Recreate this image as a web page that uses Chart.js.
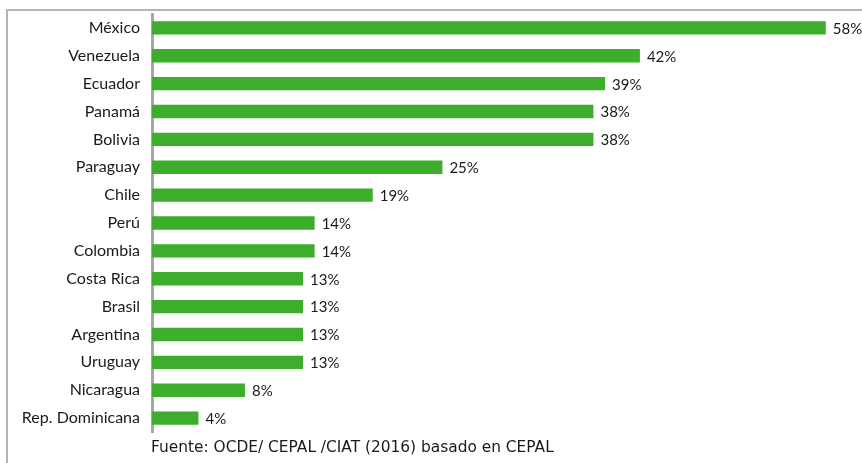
<!DOCTYPE html>
<html>
<head>
<meta charset="utf-8">
<script src="https://cdn.jsdelivr.net/npm/chart.js@4"></script>
<style>
  html, body { margin: 0; padding: 0; background: #fff; }
  #wrap { position: relative; width: 862px; height: 463px; }
  #frame { position: absolute; left: 6px; top: 9px; right: 0; bottom: 0;
           border-top: 2px solid #b4b4b4; border-left: 2px solid #b4b4b4; }
  #chart { position: absolute; left: 0; top: 0; }
  #fuente { position: absolute; left: 151px; top: 438px; font-family: "DejaVu Sans", sans-serif;
            font-size: 15.4px; color: #1a1a1a; white-space: nowrap; }
</style>
</head>
<body>
<div id="wrap">
  <div id="frame"></div>
  <canvas id="chart" width="862" height="463"></canvas>
  <div id="fuente">Fuente: OCDE/ CEPAL /CIAT (2016) basado en CEPAL</div>
</div>
<script>
// países y porcentaje
const paises = ["México", "Venezuela", "Ecuador", "Panamá", "Bolivia", "Paraguay", "Chile", "Perú",
  "Colombia", "Costa Rica", "Brasil", "Argentina", "Uruguay", "Nicaragua", "Rep. Dominicana"];
const valores = [58, 42, 39, 38, 38, 25, 19, 14, 14, 13, 13, 13, 13, 8, 4];

// etiquetas de valor a la derecha de cada barra
const valueLabels = {
  id: "valueLabels",
  afterDatasetsDraw(chart) {
    const ctx = chart.ctx;
    const meta = chart.getDatasetMeta(0);
    ctx.save();
    ctx.font = "15px Lato, sans-serif";
    ctx.fillStyle = "#1a1a1a";
    ctx.textBaseline = "middle";
    ctx.textAlign = "left";
    meta.data.forEach((bar, i) => {
      ctx.fillText(valores[i] + "%", bar.x + 7, bar.y + 1);
    });
    ctx.restore();
  },
};

new Chart(document.getElementById("chart"), {
  type: "bar",
  data: {
    labels: paises,
    datasets: [{
      data: valores,
      backgroundColor: "#3dae2b",
      borderWidth: 0,
      barPercentage: 0.48,
      categoryPercentage: 1,
    }],
  },
  options: {
    indexAxis: "y",
    responsive: false,
    animation: false,
    layout: { autoPadding: false, padding: { top: 14, bottom: 31, left: 0, right: 13 } },
    plugins: { legend: { display: false }, tooltip: { enabled: false } },
    scales: {
      x: { min: 0, max: 60, display: false },
      y: {
        afterFit: (s) => { s.width = 152; s.paddingTop = 0; s.paddingBottom = 0; },
        grid: { display: false, drawTicks: false },
        border: { display: true, color: "#a6a6a6", width: 3 },
        ticks: {
          color: "#1a1a1a",
          padding: 12,
          font: { family: "Lato, sans-serif", size: 16 },
        },
      },
    },
  },
  plugins: [valueLabels],
});
</script>
</body>
</html>
